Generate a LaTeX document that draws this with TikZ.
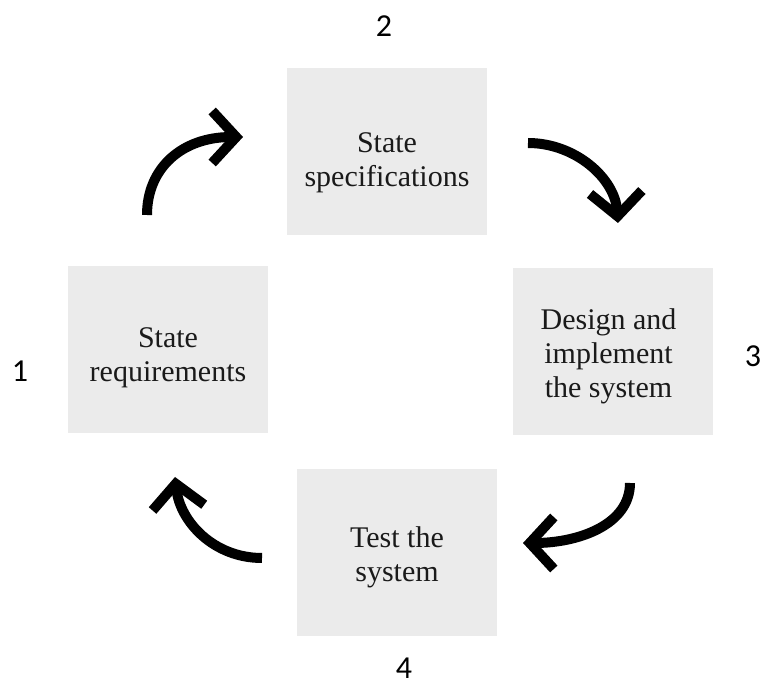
\documentclass[tikz,border=0pt]{standalone}
\usepackage{fontspec}
\setmainfont{Liberation Serif}
\newfontfamily\numfont{Carlito}
\usetikzlibrary{arrows.meta}
\definecolor{boxgray}{HTML}{EBEBEB}
\definecolor{ink}{HTML}{1A1A1A}

\begin{document}
\begin{tikzpicture}[x=1pt,y=-1pt,
        stagebox/.style={fill=boxgray,minimum width=200pt,minimum height=167pt,inner sep=0pt},
        stagetext/.style={align=center,text=ink,font=\fontsize{30}{34}\selectfont,inner sep=0pt},
        stepnum/.style={font=\numfont\fontsize{32}{36}\selectfont,inner sep=0pt},
        turn/.style={line width=10pt,-{Straight Barb[length=24pt,width=52pt]}}]
        \useasboundingbox (0,0) rectangle (761,684);

        % the four stages, text sits a little below the middle
        \node[stagebox,label={[stagetext,yshift=-8pt]center:State\\requirements}] (req) at (168,350) {};
        \node[stagebox,label={[stagetext,yshift=-11pt]center:State\\specifications}] (spec) at (387,152) {};
        \node[stagebox,label={[stagetext,xshift=-4pt,yshift=-4pt]center:Design and\\implement\\the system}] (impl) at (612.5,352) {};
        \node[stagebox,label={[stagetext,yshift=-5pt]center:Test the\\system}] (test) at (397,552.5) {};

        % step numbers
        \node[stepnum] (n1) at (20,371) {1};
        \node[stepnum] (n2) at (384,26) {2};
        \node[stepnum] (n3) at (753,356) {3};
        \node[stepnum] (n4) at (404,668) {4};

        % ends of the curved arrows
        \coordinate (a1) at (147,215);
        \coordinate (b1) at (243,137);
        \coordinate (a2) at (528,143);
        \coordinate (b2) at (618,223);
        \coordinate (a3) at (630,483);
        \coordinate (b3) at (523,543);
        \coordinate (a4) at (262,558);
        \coordinate (b4) at (175,477);

        \draw[turn] (a1) .. controls (147,168) and (182,137) .. (b1);
        \draw[turn] (a2) .. controls (575,143) and (615,178) .. (b2);
        \draw[turn] (a3) .. controls (630,525) and (578,543) .. (b3);
        \draw[turn] (a4) .. controls (214,558) and (180,522) .. (b4);
    \end{tikzpicture}
\end{document}
